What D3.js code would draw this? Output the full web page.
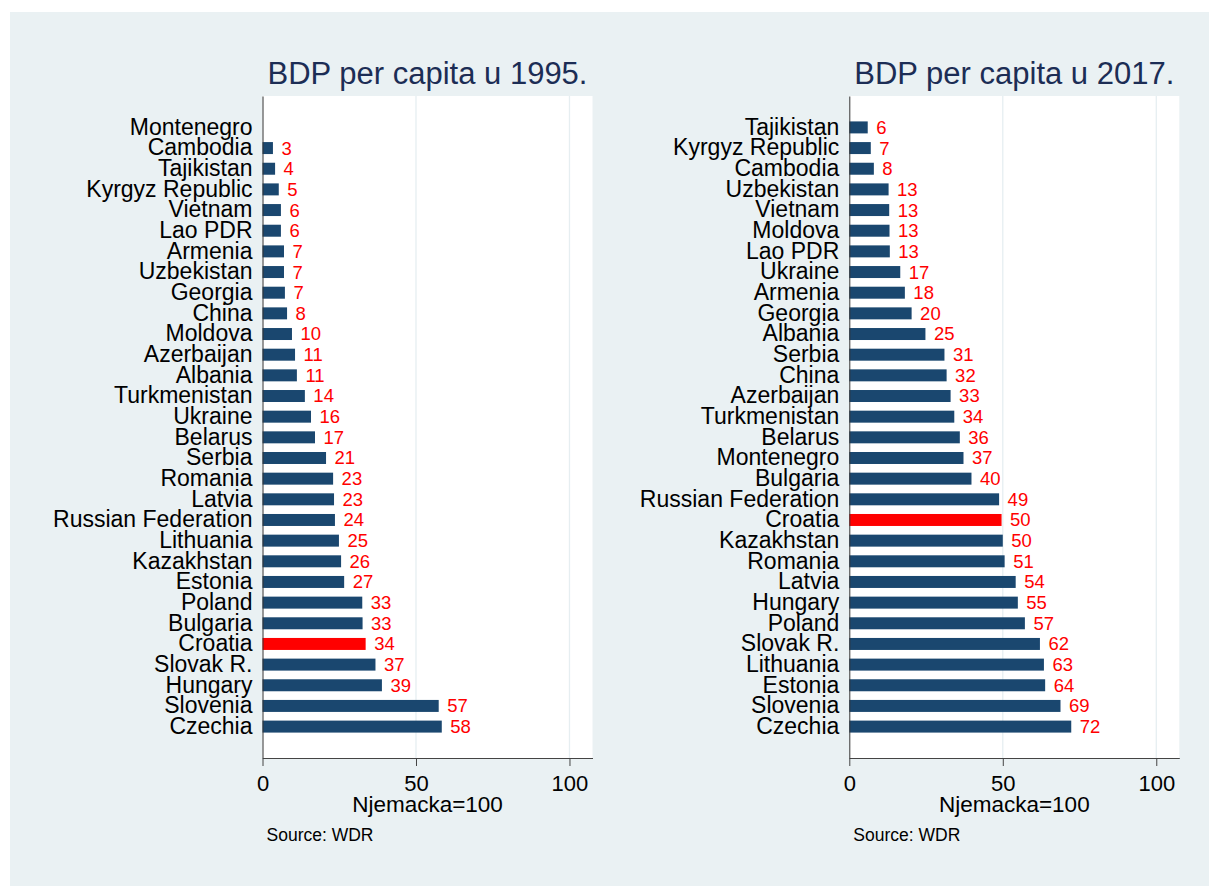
<!DOCTYPE html>
<html>
<head>
<meta charset="utf-8">
<script src="https://cdn.jsdelivr.net/npm/d3@7"></script>
<style>
  body { margin: 0; background: #ffffff; }
  svg { display: block; font-family: "Liberation Sans", Arial, sans-serif; }
</style>
</head>
<body>
<div id="graf"></div>
<script>
// Podaci: BDP per capita, Njemacka = 100
zemlje1995 = ['Montenegro', 'Cambodia', 'Tajikistan', 'Kyrgyz Republic', 'Vietnam', 'Lao PDR',
              'Armenia', 'Uzbekistan', 'Georgia', 'China', 'Moldova', 'Azerbaijan', 'Albania',
              'Turkmenistan', 'Ukraine', 'Belarus', 'Serbia', 'Romania', 'Latvia',
              'Russian Federation', 'Lithuania', 'Kazakhstan', 'Estonia', 'Poland', 'Bulgaria',
              'Croatia', 'Slovak R.', 'Hungary', 'Slovenia', 'Czechia']
vrijednosti1995 = [null, 3.4, 4.1, 5.3, 6.0, 6.0, 7.0, 7.0, 7.3, 8.0, 9.6, 10.6, 11.2,
                   13.8, 15.8, 17.1, 20.7, 23.0, 23.3, 23.6, 24.9, 25.6, 26.6, 32.5, 32.6,
                   33.6, 36.8, 38.9, 57.4, 58.4]

zemlje2017 = ['Tajikistan', 'Kyrgyz Republic', 'Cambodia', 'Uzbekistan', 'Vietnam', 'Moldova',
              'Lao PDR', 'Ukraine', 'Armenia', 'Georgia', 'Albania', 'Serbia', 'China',
              'Azerbaijan', 'Turkmenistan', 'Belarus', 'Montenegro', 'Bulgaria',
              'Russian Federation', 'Croatia', 'Kazakhstan', 'Romania', 'Latvia', 'Hungary',
              'Poland', 'Slovak R.', 'Lithuania', 'Estonia', 'Slovenia', 'Czechia']
vrijednosti2017 = [6.0, 7.0, 8.0, 12.8, 13.0, 13.1, 13.2, 16.6, 18.1, 20.3, 24.8, 31.0, 31.7,
                   33.0, 34.2, 36.0, 37.2, 39.8, 48.8, 49.6, 50.0, 50.6, 54.2, 54.9, 57.2,
                   62.1, 63.4, 63.8, 68.8, 72.3]

xTicks = [0, 50, 100]
naslovi = ['BDP per capita u 1995.', 'BDP per capita u 2017.']
istaknuto = 'Croatia'

ancho_total = 1209
alto_total = 886

svg = d3.select('#graf').append('svg')
        .attr('width', ancho_total)
        .attr('height', alto_total)

// pozadina grafa
svg.append('rect')
    .attr('x', 10)
    .attr('y', 12)
    .attr('width', ancho_total - 10)
    .attr('height', alto_total - 12)
    .attr('fill', '#eaf1f3')

plotTop = 96
plotBottom = 758
plotW = 330

function panel(left, naslov, zemlje, vrijednosti) {
    g = svg.append('g')
        .attr('transform', `translate(${left}, ${plotTop})`)
    alto = plotBottom - plotTop

    x = d3.scaleLinear().domain([0, 107.5]).range([0, plotW])
    y = d3.scaleBand().domain(zemlje).range([0, alto])
          .paddingInner(0.42).paddingOuter(1.23)

    g.append('rect')
        .attr('width', plotW)
        .attr('height', alto)
        .attr('fill', 'white')

    // mreza
    g.selectAll('.grid')
        .data(xTicks.filter(d => d > 0))
        .enter().append('line')
        .attr('x1', d => x(d)).attr('x2', d => x(d))
        .attr('y1', 0).attr('y2', alto)
        .attr('stroke', '#e6eef1')
        .attr('stroke-width', 1.3)

    podaci = zemlje.map((z, i) => ({zemlja: z, v: vrijednosti[i]}))
                   .filter(d => d.v != null)

    g.selectAll('.bar')
        .data(podaci)
        .enter().append('rect')
        .attr('x', 0)
        .attr('y', d => y(d.zemlja))
        .attr('width', d => x(d.v))
        .attr('height', y.bandwidth())
        .attr('fill', d => d.zemlja == istaknuto ? '#ff0000' : '#1a476f')

    g.selectAll('.lab')
        .data(podaci)
        .enter().append('text')
        .attr('x', d => x(d.v) + 8.5)
        .attr('y', d => y(d.zemlja) + y.bandwidth() / 2)
        .attr('dy', '0.35em')
        .attr('font-size', '18.5px')
        .attr('fill', '#ff0000')
        .text(d => d3.format('.0f')(d.v))

    ejeY = d3.axisLeft(y).tickSize(0).tickSizeOuter(0).tickPadding(10)
    gy = g.append('g').call(ejeY)
    gy.select('.domain').attr('stroke', '#333')
    gy.selectAll('text').attr('font-size', '23px').attr('fill', 'black')
      .attr('font-family', '"Liberation Sans", Arial, sans-serif')

    ejeX = d3.axisBottom(x).tickValues(xTicks).tickSize(8).tickSizeOuter(0).tickPadding(9)
    gx = g.append('g').attr('transform', `translate(0, ${alto})`).call(ejeX)
    gx.select('.domain').attr('stroke', '#444')
    gx.selectAll('line').attr('stroke', '#444')
    gx.selectAll('text').attr('font-size', '22px').attr('fill', 'black')
      .attr('font-family', '"Liberation Sans", Arial, sans-serif')

    g.append('text')
        .attr('x', plotW / 2)
        .attr('y', -12)
        .attr('text-anchor', 'middle')
        .attr('font-size', '31px')
        .attr('fill', '#1c2d55')
        .text(naslov)

    g.append('text')
        .attr('x', plotW / 2)
        .attr('y', alto + 54)
        .attr('text-anchor', 'middle')
        .attr('font-size', '22.5px')
        .attr('fill', 'black')
        .text('Njemacka=100')

    g.append('text')
        .attr('x', 4)
        .attr('y', alto + 83)
        .attr('font-size', '17.5px')
        .attr('fill', 'black')
        .text('Source: WDR')
}

panel(262.5, naslovi[0], zemlje1995, vrijednosti1995)
panel(849.3, naslovi[1], zemlje2017, vrijednosti2017)
</script>
</body>
</html>
